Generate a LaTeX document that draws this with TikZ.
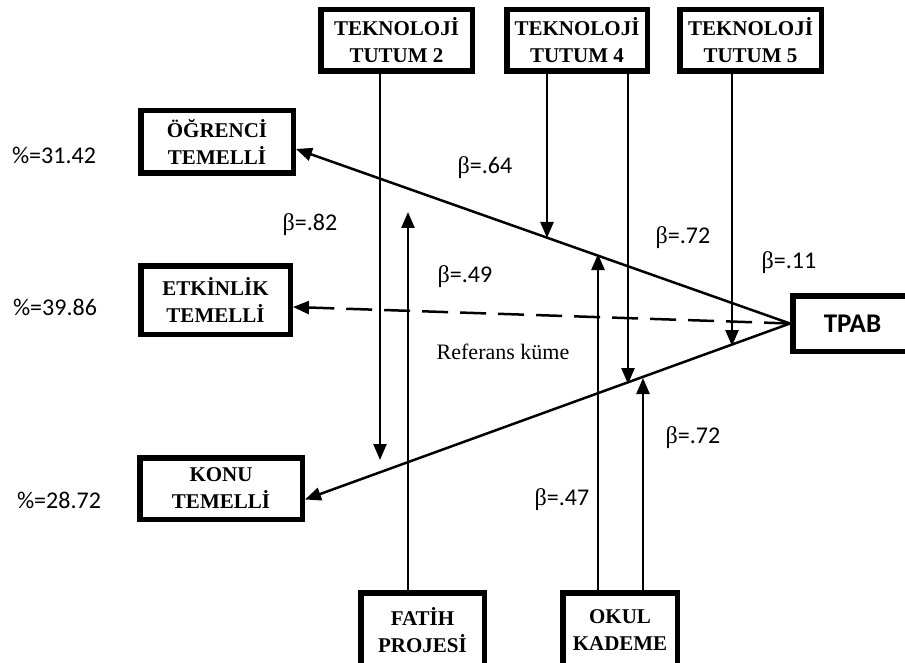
\documentclass[tikz,border=0pt]{standalone}
\usepackage{fontspec}
\setmainfont{Liberation Serif}
\newfontfamily\calibri{Carlito}
\usetikzlibrary{arrows.meta}

\newcommand\betaharf{{\rmfamily β}}

\tikzset{
  kutu/.style={draw, line width=5.5pt, align=center, inner sep=0pt,
    font=\bfseries\fontsize{21}{27}\selectfont},
  ok/.style={line width=2.5pt, -{Triangle[length=16pt,width=13pt]}},
  etiket/.style={font=\calibri\fontsize{24}{28}\selectfont, inner sep=0pt},
}

\begin{document}
\begin{tikzpicture}[x=1pt,y=-1pt]
\useasboundingbox (0,0) rectangle (905,663);

\node[kutu, minimum width=151.5pt, minimum height=61.5pt] (t2) at (396.5,40.5) {TEKNOLOJİ\\TUTUM 2};
\node[kutu, minimum width=140.5pt, minimum height=61.5pt] (t4) at (577,40.5) {TEKNOLOJİ\\TUTUM 4};
\node[kutu, minimum width=141.5pt, minimum height=61.5pt] (t5) at (750.5,40.5) {TEKNOLOJİ\\TUTUM 5};

\node[kutu, minimum width=152.5pt, minimum height=62.5pt] (ogr) at (217,142) {ÖĞRENCİ\\TEMELLİ};
\node[kutu, minimum width=149.5pt, minimum height=68.5pt] (etk) at (215.5,300) {ETKİNLİK\\TEMELLİ};
\node[kutu, minimum width=162.5pt, minimum height=61.5pt] (konu) at (221,488.5) {KONU\\TEMELLİ};

\node[kutu, minimum width=119.5pt, minimum height=55.5pt,
  font=\calibri\bfseries\fontsize{27}{30}\selectfont] (tpab) at (852.5,323.5) {TPAB};

\node[kutu, minimum width=123.5pt, minimum height=74.5pt] (fp) at (422.5,630) {FATİH\\PROJESİ};
\node[kutu, minimum width=114.5pt, minimum height=74.5pt] (okul) at (620,630) {OKUL\\KADEME};

% TPAB'dan gruplara
\draw[ok] (tpab.west) -- ([yshift=-7pt]ogr.east);
\draw[ok, dash pattern=on 26pt off 12pt] (tpab.west) -- ([yshift=-7pt]etk.east);
\draw[ok] (tpab.west) -- ([yshift=-11pt]konu.east);

% dikey oklar
\coordinate (u2) at (380,460);
\coordinate (u4a) at (547,238);
\coordinate (u4b) at (628,384);
\coordinate (u5) at (732,346);
\coordinate (uf) at (408,212);
\coordinate (uka) at (598,254);
\coordinate (ukb) at (643,378);

\draw[ok] (t2.south -| u2) -- (u2);
\draw[ok] (t4.south -| u4a) -- (u4a);
\draw[ok] (t4.south -| u4b) -- (u4b);
\draw[ok] (t5.south -| u5) -- (u5);
\draw[ok] (fp.north -| uf) -- (uf);
\draw[ok] (okul.north -| uka) -- (uka);
\draw[ok] (okul.north -| ukb) -- (ukb);

% yuzdeler ve katsayilar
\node[etiket] (p1) at (54,155) {\%=31.42};
\node[etiket] (p2) at (55,307) {\%=39.86};
\node[etiket] (p3) at (59,500) {\%=28.72};

\node[etiket] (b64) at (485,168) {\betaharf=.64};
\node[etiket] (b82) at (310,225) {\betaharf=.82};
\node[etiket] (b49) at (465,277) {\betaharf=.49};
\node[etiket] (b72a) at (683,238) {\betaharf=.72};
\node[etiket] (b11) at (789,263) {\betaharf=.11};
\node[etiket] (b72b) at (693,438) {\betaharf=.72};
\node[etiket] (b47) at (562,500) {\betaharf=.47};

\node[font=\fontsize{22}{26}\selectfont, inner sep=0pt] (ref) at (503,352) {Referans küme};

\end{tikzpicture}
\end{document}
